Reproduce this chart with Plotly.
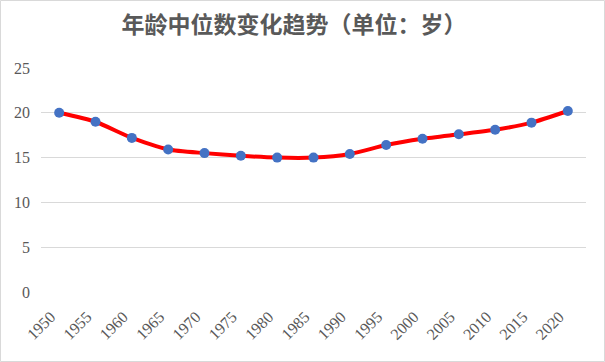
import plotly.graph_objects as go

years = ["1950", "1955", "1960", "1965", "1970", "1975", "1980", "1985",
         "1990", "1995", "2000", "2005", "2010", "2015", "2020"]
median_age = [20.0, 19.0, 17.2, 15.9, 15.5, 15.2, 15.0, 15.0,
              15.4, 16.4, 17.1, 17.6, 18.1, 18.9, 20.2]
y_ticks = [0, 5, 10, 15, 20, 25]

serif = "Times New Roman"
pad = "\u00a0" * 3

fig = go.Figure()
fig.add_trace(go.Scatter(
    x=years, y=median_age, mode="lines+markers",
    line=dict(color="#FF0000", width=4, shape="spline", smoothing=0.6),
    marker=dict(color="#4472C4", size=10, line=dict(width=0)),
    showlegend=False,
))

fig.update_layout(
    width=605, height=362,
    margin=dict(l=41, r=19, t=68, b=70, autoexpand=False),
    paper_bgcolor="white", plot_bgcolor="white",
    title=dict(text="<b>年龄中位数变化趋势（单位：岁）</b>",
               x=0.486, xanchor="center", y=1 - 25/362, yanchor="middle",
               font=dict(family="Noto Sans CJK SC", size=23, color="#595959")),
    xaxis=dict(type="category", range=[-0.5, 14.5], showgrid=False,
               showline=False, ticks="", tickangle=-45, automargin=False,
               tickvals=years, ticktext=[y + pad for y in years],
               tickfont=dict(family=serif, size=16, color="#595959"),
               ticklabelstandoff=3),
    yaxis=dict(range=[0, 25], tickvals=y_ticks, showgrid=True,
               gridcolor="#D9D9D9", gridwidth=1, zeroline=False,
               showline=False, ticks="", automargin=False,
               tickfont=dict(family=serif, size=16, color="#595959"),
               ticklabelstandoff=10),
    shapes=[dict(type="rect", xref="paper", yref="paper",
                 x0=-40.5/545, x1=1+18.5/545, y0=-69.5/224, y1=1+67.5/224,
                 line=dict(color="#D9D9D9", width=1), fillcolor="rgba(0,0,0,0)")],
)

fig.write_html("out.html", config={"displayModeBar": False},
               post_script="document.body.style.margin='0';")
